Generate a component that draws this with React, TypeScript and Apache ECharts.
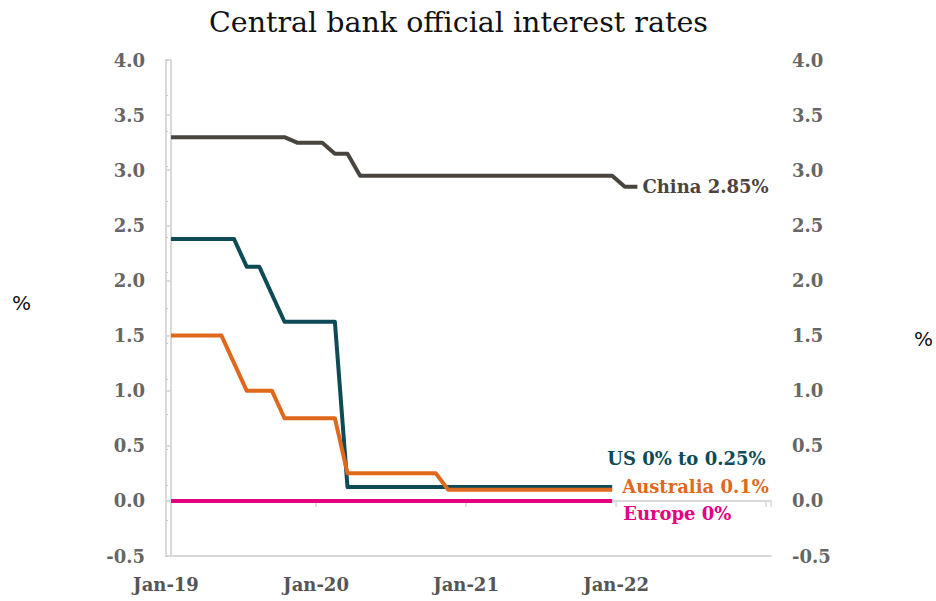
import React, { useEffect, useRef } from "react";
import * as echarts from "echarts";

const title = "Central bank official interest rates";
const xTickLabels = ["Jan-19", "Jan-20", "Jan-21", "Jan-22"];
const seriesNames = ["China", "US", "Australia", "Europe"];
const endLabels = ["China 2.85%", "US 0% to 0.25%", "Australia 0.1%", "Europe 0%"];
const axisUnit = "%";
const colors = ["#4a443f", "#0e4b57", "#e0681d", "#e6007d"];

// monthly values, index 0 = Jan-19
const china = [
  3.3, 3.3, 3.3, 3.3, 3.3, 3.3, 3.3, 3.3, 3.3, 3.3,
  3.25, 3.25, 3.25, 3.15, 3.15,
  2.95, 2.95, 2.95, 2.95, 2.95, 2.95, 2.95, 2.95, 2.95, 2.95, 2.95,
  2.95, 2.95, 2.95, 2.95, 2.95, 2.95, 2.95, 2.95, 2.95, 2.95,
  2.85, 2.85,
];
const us = [
  2.375, 2.375, 2.375, 2.375, 2.375, 2.375,
  2.125, 2.125, 1.875,
  1.625, 1.625, 1.625, 1.625, 1.625,
  0.125, 0.125, 0.125, 0.125, 0.125, 0.125, 0.125, 0.125, 0.125, 0.125, 0.125,
  0.125, 0.125, 0.125, 0.125, 0.125, 0.125, 0.125, 0.125, 0.125, 0.125, 0.125,
];
const australia = [
  1.5, 1.5, 1.5, 1.5, 1.5, 1.25,
  1.0, 1.0, 1.0,
  0.75, 0.75, 0.75, 0.75, 0.75,
  0.25, 0.25, 0.25, 0.25, 0.25, 0.25, 0.25, 0.25,
  0.1, 0.1, 0.1, 0.1, 0.1, 0.1, 0.1, 0.1, 0.1, 0.1, 0.1, 0.1, 0.1, 0.1,
];
const europe = [
  0, 0, 0, 0, 0, 0, 0, 0, 0, 0, 0, 0, 0, 0, 0, 0, 0, 0,
  0, 0, 0, 0, 0, 0, 0, 0, 0, 0, 0, 0, 0, 0, 0, 0, 0, 0,
];
const allSeries = [china, us, australia, europe];
const labelOffsets = [
  [0, 0],
  [-10, -29],
  [5, -3],
  [6, 13],
];

const serif = "DejaVu Serif";

export default function App() {
  const ref = useRef<HTMLDivElement>(null);
  useEffect(() => {
    if (!ref.current) return;
    const chart = echarts.init(ref.current, null, { renderer: "svg" });
    const yLabel = {
      fontFamily: serif,
      fontSize: 18,
      fontWeight: "bold" as const,
      color: "#666666",
      margin: 21,
      formatter: (v: number) => v.toFixed(1),
    };
    chart.setOption({
      animation: false,
      title: {
        text: title,
        left: 204,
        top: 3,
        textStyle: { fontFamily: serif, fontSize: 28.5, fontWeight: "normal", color: "#111111" },
      },
      graphic: [
        {
          type: "text",
          left: 12,
          top: 293,
          style: { text: axisUnit, font: "20px 'DejaVu Sans'", fill: "#111111" },
        },
        {
          type: "text",
          left: 914,
          top: 329,
          style: { text: axisUnit, font: "20px 'DejaVu Sans'", fill: "#111111" },
        },
      ],
      grid: { left: 166, right: 165, top: 60, bottom: 45 },
      xAxis: [
        {
          type: "value",
          min: -0.4,
          max: 47.6,
          show: false,
          position: "bottom",
        },
        {
          type: "value",
          min: 0,
          max: 4.033,
          interval: 1,
          position: "bottom",
          axisLine: { show: true, onZero: false, lineStyle: { color: "#d9d9d9", width: 2 } },
          axisTick: { show: false },
          splitLine: { show: false },
          axisLabel: {
            fontFamily: serif,
            fontSize: 18,
            fontWeight: "bold",
            color: "#555555",
            margin: 19,
            showMaxLabel: false,
            formatter: (v: number) => xTickLabels[Math.round(v)] ?? "",
          },
        },
        {
          type: "value",
          min: 0,
          max: 4.033,
          interval: 1,
          position: "bottom",
          axisLine: { show: true, onZero: true, lineStyle: { color: "#d9d9d9", width: 2 } },
          axisTick: { show: true, length: 6, lineStyle: { color: "#d9d9d9", width: 1.5 } },
          axisLabel: { show: false },
          splitLine: { show: false },
        },
      ],
      yAxis: [
        {
          type: "value",
          min: -0.5,
          max: 4,
          interval: 0.5,
          position: "left",
          axisLine: { show: true, lineStyle: { color: "#d9d9d9", width: 2 } },
          axisTick: { show: true, length: 6, lineStyle: { color: "#d9d9d9", width: 1.5 } },
          splitLine: { show: false },
          axisLabel: yLabel,
        },
        {
          type: "value",
          min: -0.5,
          max: 4,
          interval: 0.5,
          position: "right",
          axisLine: { show: true, lineStyle: { color: "#d9d9d9", width: 2 } },
          axisTick: { show: true, length: 6, lineStyle: { color: "#d9d9d9", width: 1.5 } },
          splitLine: { show: false },
          axisLabel: yLabel,
        },
        {
          type: "value",
          min: 0,
          max: 14,
          interval: 1,
          position: "right",
          offset: 66,
          axisLine: { show: false },
          axisTick: { show: true, length: 2, lineStyle: { color: "#c8c8c8", width: 1 } },
          axisLabel: { show: false },
          splitLine: { show: false },
        },
      ],
      series: allSeries.map((vals, i) => ({
        name: seriesNames[i],
        type: "line",
        xAxisIndex: 0,
        yAxisIndex: 0,
        data: vals.map((v, k) => [k, v]),
        showSymbol: false,
        symbol: "none",
        lineStyle: { color: colors[i], width: 4, join: "round" },
        itemStyle: { color: colors[i] },
        z: 3 + i,
        endLabel: {
          show: true,
          formatter: endLabels[i],
          color: colors[i],
          fontFamily: serif,
          fontSize: 18,
          fontWeight: "bold",
          distance: 5,
          offset: labelOffsets[i],
        },
      })),
    });
    return () => chart.dispose();
  }, []);
  return <div ref={ref} style={{ width: 936, height: 601, position: "absolute", left: 0, top: 0 }} />;
}
